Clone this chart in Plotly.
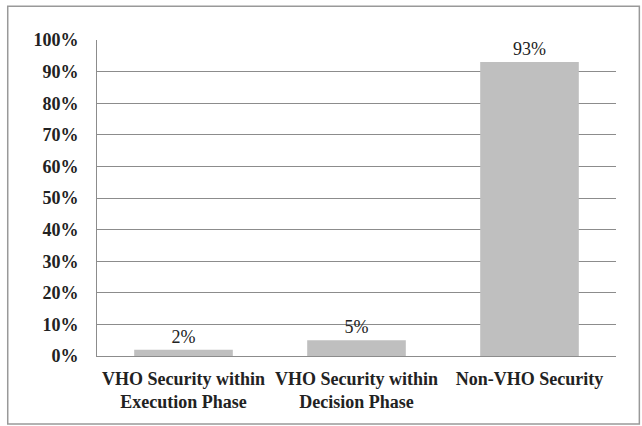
import plotly.graph_objects as go

categories = ["VHO Security within<br>Execution Phase", "VHO Security within<br>Decision Phase", "Non-VHO Security"]
values = [2, 5, 93]
value_labels = ["2%", "5%", "93%"]
tick_vals = [0, 10, 20, 30, 40, 50, 60, 70, 80, 90, 100]
tick_text = [f"{v}%" for v in tick_vals]

font_family = "'Liberation Serif', serif"

fig = go.Figure(go.Bar(
    x=categories, y=values, text=value_labels, textposition="outside",
    textfont=dict(family=font_family, size=18, color="#222"),
    marker=dict(color="#BFBFBF", line=dict(width=0)),
    width=0.57, cliponaxis=False,
))

fig.update_layout(
    width=642, height=426,
    margin=dict(l=97, r=26, t=40, b=70, autoexpand=False),
    paper_bgcolor="white", plot_bgcolor="white",
    showlegend=False,
    font=dict(family=font_family, size=18, color="#222"),
    shapes=[dict(type="rect", xref="paper", yref="paper",
                 x0=-0.172, x1=1.045, y0=-0.215, y1=1.107,
                 line=dict(color="#999", width=1.5))],
)
fig.update_yaxes(range=[0, 100], tickvals=tick_vals, ticktext=[f"<b>{t}</b>" for t in tick_text],
                 showgrid=True, gridcolor="#8c8c8c", gridwidth=1,
                 showline=True, linecolor="#8c8c8c", linewidth=1,
                 ticks="", ticklen=0, zeroline=False, ticklabelstandoff=14,
                 automargin=False,
                 tickfont=dict(family=font_family, size=18, color="#222"))
fig.update_xaxes(showline=True, linecolor="#8c8c8c", linewidth=1, ticks="",
                 tickvals=categories, ticktext=[f"<b>{c}</b>" for c in categories],
                 ticklabelstandoff=6, tickangle=0, automargin=False,
                 tickfont=dict(family=font_family, size=18, color="#222"))

fig.write_html("out.html", post_script="document.body.style.margin='0';",
               config={"displayModeBar": False})
